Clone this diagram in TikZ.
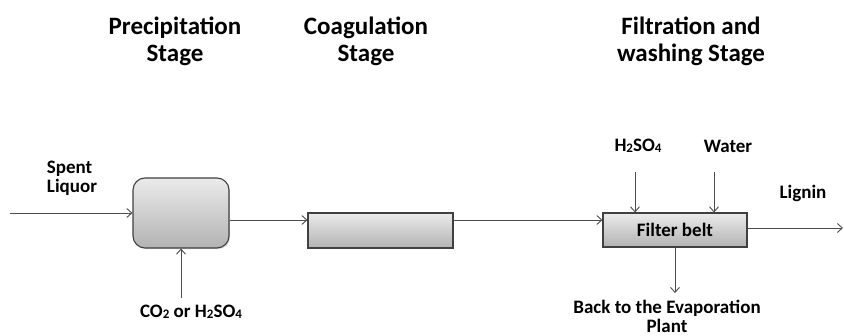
\documentclass[tikz,border=0pt]{standalone}
\usepackage{fontspec}
\setmainfont{Carlito}
\usetikzlibrary{arrows.meta,shadows}
\newcommand{\sbs}[1]{\raisebox{-0.1ex}{\fontsize{13}{13}\selectfont #1}}
\begin{document}
\begin{tikzpicture}[x=1pt,y=-1pt,
  lbl/.style={font=\fontsize{19}{19}\selectfont\bfseries, inner sep=0pt, text=black},
  hdr/.style={font=\fontsize{25}{27}\selectfont\bfseries, inner sep=0pt, align=center, text=black},
  boxstyle/.style={draw=black!75, line width=1.1pt, top color=black!8, bottom color=black!30,
     drop shadow={opacity=0.25, shadow xshift=1.2pt, shadow yshift=-1.2pt}},
  arr/.style={draw=black!70, line width=0.9pt, -{Straight Barb[length=5pt,width=9pt]}}]
\path[use as bounding box, fill=white] (0,0) rectangle (844,336);

% headers
\node[hdr] (h1) at (175,41) {Precipitation\\Stage};
\node[hdr] (h2) at (366,41) {Coagulation\\Stage};
\node[hdr] (h3) at (691,41) {Filtration and\\washing Stage};

% boxes
\node[boxstyle, rounded corners=12pt, minimum width=96pt, minimum height=70pt] (pbox) at (181,213) {};
\node[boxstyle, minimum width=145pt, minimum height=35pt] (cbox) at (380.5,230.5) {};
\node[boxstyle, minimum width=144pt, minimum height=34pt, font=\fontsize{19}{20}\selectfont\bfseries] (fbox) at (675,230) {Filter belt};

% labels
\node[lbl, align=left] (spent) at (72,178) {Spent\\Liquor};
\node[lbl] (co2) at (191,312) {CO\sbs{2} or H\sbs{2}SO\sbs{4}};
\node[lbl] (h2so4) at (638,146) {H\sbs{2}SO\sbs{4}};
\node[lbl] (water) at (728,146) {Water};
\node[lbl] (lignin) at (803,193) {Lignin};
\node[lbl, align=center] (back) at (667,316) {Back to the Evaporation\\Plant};

% coordinates
\coordinate (in) at (10,213);
\coordinate (co2s) at (181,298);
\coordinate (h2s) at (635,172);
\coordinate (ws) at (714,172);
\coordinate (out) at (843,228);
\coordinate (down) at (675,293);

% connectors
\draw[arr] (in) -- (pbox.west);
\draw[arr] (co2s) -- (pbox.south);
\draw[arr] ([yshift=-7pt]pbox.east) -- ([yshift=-7pt]pbox.east -| cbox.west);
\draw[arr] ([yshift=-7pt]pbox.east -| cbox.east) -- ([yshift=-7pt]pbox.east -| fbox.west);
\draw[arr] (h2s) -- (h2s |- fbox.north);
\draw[arr] (ws) -- (ws |- fbox.north);
\draw[arr] ([yshift=2pt]fbox.east) -- (out);
\draw[arr] (fbox.south) -- (down);
\end{tikzpicture}
\end{document}
